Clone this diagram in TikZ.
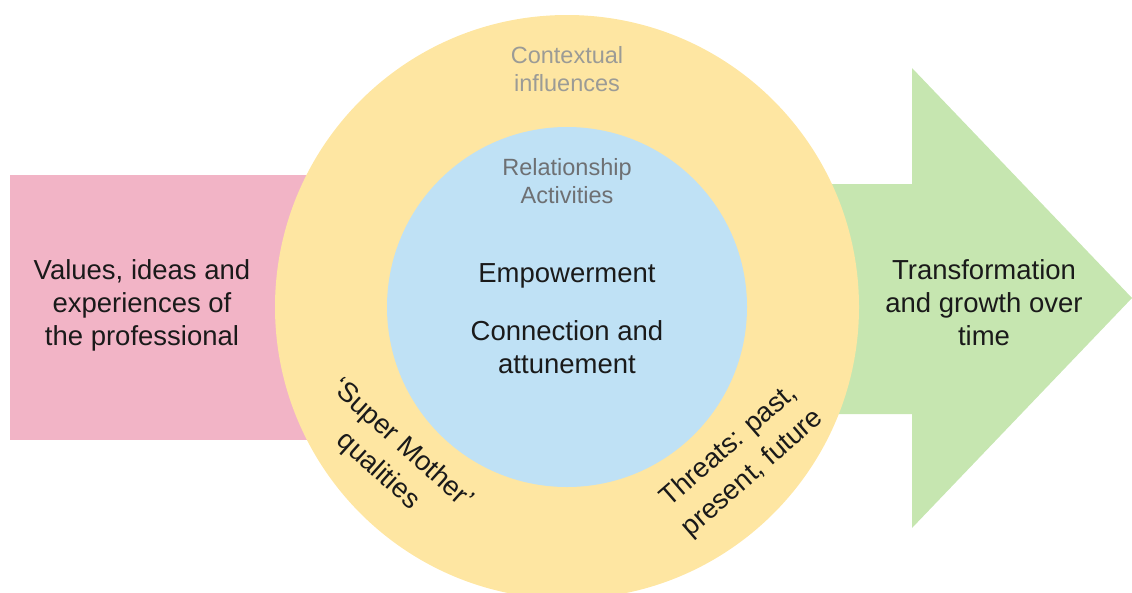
\documentclass[tikz,border=0pt]{standalone}
\usepackage{fontspec}
\setmainfont{Liberation Sans}
\definecolor{pinkbox}{RGB}{242,180,198}
\definecolor{ringyellow}{RGB}{254,230,162}
\definecolor{coreblue}{RGB}{191,225,245}
\definecolor{arrowgreen}{RGB}{198,230,176}
\definecolor{inktext}{RGB}{26,26,26}
\definecolor{softgray}{RGB}{155,155,150}
\definecolor{midgray}{RGB}{110,112,115}
\begin{document}
\begin{tikzpicture}[x=1pt,y=-1pt,
  maintext/.style={font=\fontsize{27.5}{33}\selectfont, align=center, inner sep=0pt, text=inktext},
  arctext/.style={font=\fontsize{27.5}{36}\selectfont, align=center, inner sep=0pt, text=inktext},
  labeltext/.style={font=\fontsize{23.5}{28}\selectfont, align=center, inner sep=0pt},
  disc/.style={circle, inner sep=0pt, draw=none}]
\useasboundingbox (0,0) rectangle (1132,592);

% input box on the left
\fill[pinkbox] (10,175) rectangle (330,440);

% output arrow on the right
\fill[arrowgreen] (820,184) -- (912,184) -- (912,68) -- (1132,298)
  -- (912,528) -- (912,414) -- (820,414) -- cycle;

% concentric rings
\node[disc, fill=ringyellow, minimum size=584pt] (ring) at (567,307) {};
\node[disc, fill=coreblue, minimum size=360pt] (core) at (567,307) {};

% texts
\node[maintext] (values) at (142,305) {Values, ideas and\\experiences of\\the professional};
\node[maintext] (growth) at (984,303) {Transformation\\and growth over\\time};

\node[labeltext, text=softgray] (context) at (567,69.5) {Contextual\\influences};
\node[labeltext, text=midgray] (relact) at (567,181) {Relationship\\Activities};

\node[maintext, anchor=base] (empower) at (567,282) {Empowerment};
\node[maintext] (connect) at (567,347.5) {Connection and\\attunement};

\node[arctext, rotate=-42] (mother) at (390,458) {`Super Mother'\\qualities};
\node[arctext, rotate=41] (threats) at (741,460) {Threats: past,\\present, future};
\end{tikzpicture}
\end{document}
